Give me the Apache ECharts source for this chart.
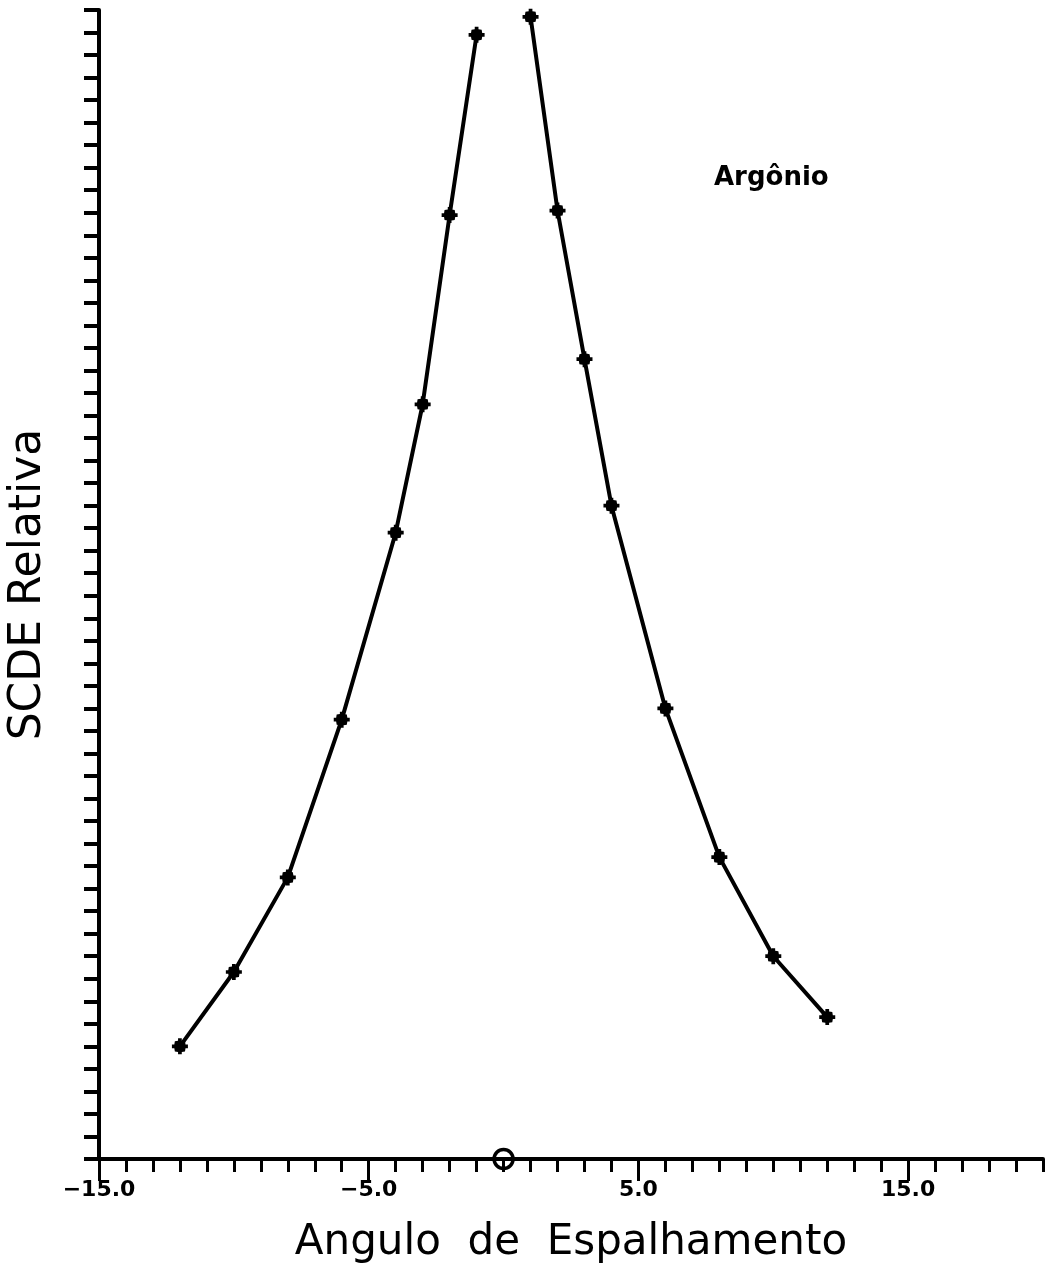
<!DOCTYPE html>
<html>
<head>
<meta charset="utf-8">
<script src="https://cdn.jsdelivr.net/npm/echarts@6/dist/echarts.min.js"></script>
<style>
  html, body { margin: 0; padding: 0; background: #fff; }
  #chart { width: 1055px; height: 1270px; }
</style>
</head>
<body>
<div id="chart"></div>
<script>
// angulo (graus) e SCDE relativa
let anguloEsq = [-12, -10, -8, -6, -4, -3, -2, -1];
let scdeEsq = [5.0, 8.3, 12.5, 19.5, 27.8, 33.5, 41.9, 49.9];
let anguloDir = [1, 2, 3, 4, 6, 8, 10, 12];
let scdeDir = [50.7, 42.1, 35.5, 29.0, 20.0, 13.4, 9.0, 6.3];
let origem = [[0, 0]];
let xLabels = [-15, -5, 5, 15];

// marcador: bolinha cheia com bracos curtos
const estrela = 'path://M4.6,0 H7.4 V1.8 L9.8,2.2 L10.2,4.6 H12 V7.4 H10.2 L9.8,9.8 L7.4,10.2 V12 H4.6 V10.2 L2.2,9.8 L1.8,7.4 H0 V4.6 H1.8 L2.2,2.2 L4.6,1.8 Z';

function pares(xs, ys) {
    return xs.map((x, i) => [x, ys[i]]);
}

function fmt(v) {
    return (v < 0 ? '\u2212' : '') + Math.abs(v).toFixed(1);
}

let myChart = echarts.init(document.getElementById('chart'));

let serieLinha = {
    type: 'line',
    smooth: false,
    symbol: estrela,
    symbolSize: 16,
    showAllSymbol: true,
    lineStyle: { color: '#000', width: 4 },
    itemStyle: { color: '#000' },
    z: 5
};

let option = {
    animation: false,
    backgroundColor: '#fff',
    grid: { left: 99, right: 12, top: 10, bottom: 111, outerBoundsMode: 'none', containLabel: false },
    xAxis: [
        {
            type: 'value',
            min: -15,
            max: 20,
            interval: 1,
            position: 'bottom',
            splitLine: { show: false },
            axisLine: { show: true, onZero: false, lineStyle: { color: '#000', width: 4 } },
            axisTick: { show: true, length: 13, lineStyle: { color: '#000', width: 3 } },
            axisLabel: { show: false },
            name: 'Angulo  de  Espalhamento',
            nameLocation: 'middle',
            nameGap: 63,
            nameTextStyle: { color: '#000', fontFamily: 'DejaVu Sans', fontSize: 42 }
        },
        {
            type: 'value',
            min: -15,
            max: 20,
            position: 'bottom',
            splitLine: { show: false },
            axisLine: { show: false, onZero: false },
            axisTick: { show: true, length: 22, customValues: xLabels, lineStyle: { color: '#000', width: 3 } },
            axisLabel: {
                show: true,
                customValues: xLabels,
                margin: 20,
                formatter: fmt,
                color: '#000',
                fontFamily: 'DejaVu Sans',
                fontWeight: 'bold',
                fontSize: 22
            }
        }
    ],
    yAxis: {
        type: 'value',
        min: 0,
        max: 51,
        interval: 1,
        splitLine: { show: false },
        axisLine: { show: true, onZero: false, lineStyle: { color: '#000', width: 4 } },
        axisTick: { show: true, length: 15, lineStyle: { color: '#000', width: 4 } },
        axisLabel: { show: false },
        name: 'SCDE Relativa',
        nameLocation: 'middle',
        nameGap: 48,
        nameTextStyle: { color: '#000', fontFamily: 'DejaVu Sans', fontSize: 44 }
    },
    graphic: [
        {
            type: 'text',
            left: 714,
            top: 165,
            style: {
                text: 'Argônio',
                fill: '#000',
                font: 'bold 26px "DejaVu Sans"'
            }
        }
    ],
    series: [
        Object.assign({}, serieLinha, { data: pares(anguloEsq, scdeEsq) }),
        Object.assign({}, serieLinha, { data: pares(anguloDir, scdeDir) }),
        {
            type: 'scatter',
            data: origem,
            symbol: 'circle',
            symbolSize: 19,
            itemStyle: { color: 'rgba(0,0,0,0)', borderColor: '#000', borderWidth: 3.5, opacity: 1 },
            z: 6
        }
    ]
};
myChart.setOption(option);
window.onresize = myChart.resize;
</script>
</body>
</html>
